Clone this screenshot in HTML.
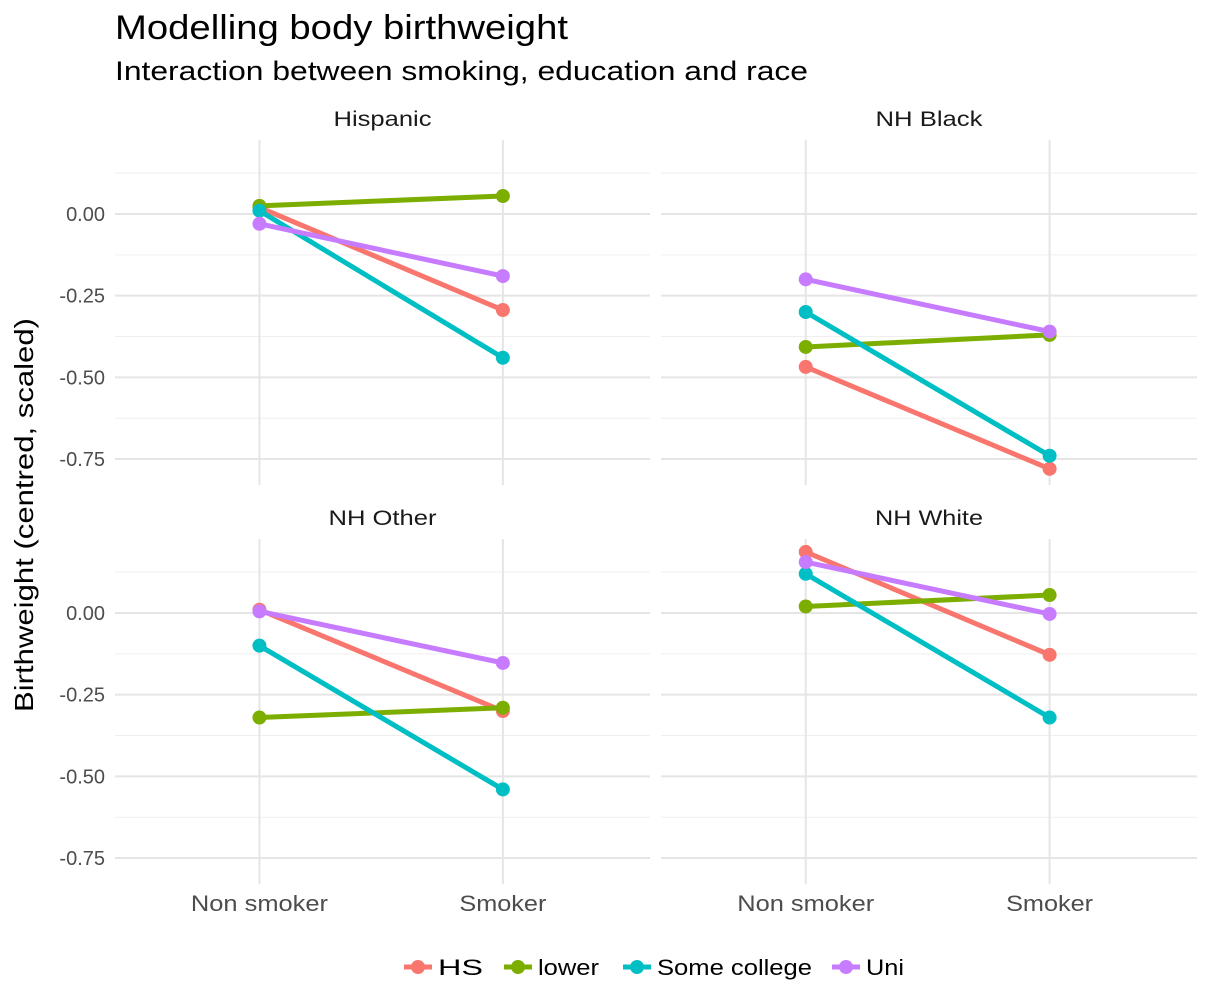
<!DOCTYPE html>
<html><head><meta charset="utf-8"><style>
body{margin:0;background:#fff;}
svg{display:block;font-family:"Liberation Sans",Arial,sans-serif;}
</style></head><body>
<svg id="chart" width="1207" height="1006">
<text x="115" y="39" font-size="34" textLength="453" lengthAdjust="spacingAndGlyphs" fill="#000">Modelling body birthweight</text>
<text x="115" y="80" font-size="27" textLength="693" lengthAdjust="spacingAndGlyphs" fill="#000">Interaction between smoking, education and race</text>
<text transform="translate(33,515) rotate(-90)" text-anchor="middle" font-size="26" textLength="394" lengthAdjust="spacingAndGlyphs" fill="#000">Birthweight (centred, scaled)</text>
<g id="panels"></g>
<g id="legend"></g>
</svg>
<script>
const panels = ["Hispanic","NH Black","NH Other","NH White"];
const xCats = ["Non smoker","Smoker"];
const series = ["HS","lower","Some college","Uni"];
const colors = ["#F8766D","#7CAE00","#00BFC4","#C77CFF"];
const yTicks = [0,-0.25,-0.5,-0.75];
const yTickLabels = ["0.00","-0.25","-0.50","-0.75"];
// values[panel][series] = [non smoker, smoker]
const hispanic = [[0.02,-0.294],[0.025,0.055],[0.01,-0.44],[-0.03,-0.19]];
const nhBlack = [[-0.468,-0.78],[-0.407,-0.37],[-0.30,-0.74],[-0.20,-0.36]];
const nhOther = [[0.01,-0.30],[-0.32,-0.29],[-0.10,-0.54],[0.005,-0.153]];
const nhWhite = [[0.187,-0.128],[0.02,0.055],[0.12,-0.32],[0.156,-0.003]];
const values = [hispanic,nhBlack,nhOther,nhWhite];

const NS="http://www.w3.org/2000/svg";
function mk(tag,attrs,parent){const e=document.createElementNS(NS,tag);for(const k in attrs)e.setAttribute(k,attrs[k]);parent.appendChild(e);return e;}
const layouts=[{x0:115,x1:650,z:214},{x0:661,x1:1197,z:214},{x0:115,x1:650,z:613},{x0:661,x1:1197,z:613}];
const stripW=[98,107,108,108];
const xLabW=[137,87];
const pxPerUnit=326.7;
const g=document.getElementById('panels');
layouts.forEach((L,p)=>{
  const pg=mk('g',{},g);
  
  
  const yS=v=>L.z-v*pxPerUnit;
  const w=L.x1-L.x0;
  const xS=i=>L.x0+w*(0.27+0.455*i);
  const top=yS(0.226), bot=yS(-0.83);
  for(let v=0.125;v>-0.8;v-=0.25){mk('line',{x1:L.x0,x2:L.x1,y1:yS(v),y2:yS(v),stroke:'#efefef','stroke-width':1},pg);}
  yTicks.forEach(v=>{mk('line',{x1:L.x0,x2:L.x1,y1:yS(v),y2:yS(v),stroke:'#e5e5e5','stroke-width':2},pg);});
  xCats.forEach((c,i)=>{mk('line',{x1:xS(i),x2:xS(i),y1:top,y2:bot,stroke:'#e5e5e5','stroke-width':2},pg);});
  const st=mk('text',{x:(L.x0+L.x1)/2,y:top-14,'text-anchor':'middle','font-size':21,fill:'#1a1a1a',textLength:stripW[p],lengthAdjust:'spacingAndGlyphs'},pg);
  st.textContent=panels[p];
  
  
  if(p%2===0){yTicks.forEach((v,i)=>{const t=mk('text',{x:L.x0-10,y:yS(v)+7,'text-anchor':'end','font-size':20,fill:'#4d4d4d'},pg);t.textContent=yTickLabels[i];
    
    });}
  if(p>=2){xCats.forEach((c,i)=>{const t=mk('text',{x:xS(i),y:911,'text-anchor':'middle','font-size':22,fill:'#4d4d4d',textLength:xLabW[i],lengthAdjust:'spacingAndGlyphs'},pg);t.textContent=c;
    
    });}
  series.forEach((s,si)=>{
    const v=values[p][si];
    const ln=mk('line',{x1:xS(0),y1:yS(v[0]),x2:xS(1),y2:yS(v[1]),stroke:colors[si],'stroke-width':5},pg);
    
    
    v.forEach((val,i)=>{const c=mk('circle',{cx:xS(i),cy:yS(val),r:7,fill:colors[si]},pg);
      
      });
  });
});
const lg=document.getElementById('legend');


const lx=[418,518,637,846];
const lw=[45,61,155,38];
series.forEach((s,i)=>{
  const e=mk('g',{},lg);
  
  
  mk('line',{x1:lx[i]-14,x2:lx[i]+14,y1:967,y2:967,stroke:colors[i],'stroke-width':5},e);
  mk('circle',{cx:lx[i],cy:967,r:7,fill:colors[i]},e);
  const t=mk('text',{x:lx[i]+20,y:975,'font-size':22,fill:'#000',textLength:lw[i],lengthAdjust:'spacingAndGlyphs'},e);t.textContent=s;
});
</script>
</body></html>
